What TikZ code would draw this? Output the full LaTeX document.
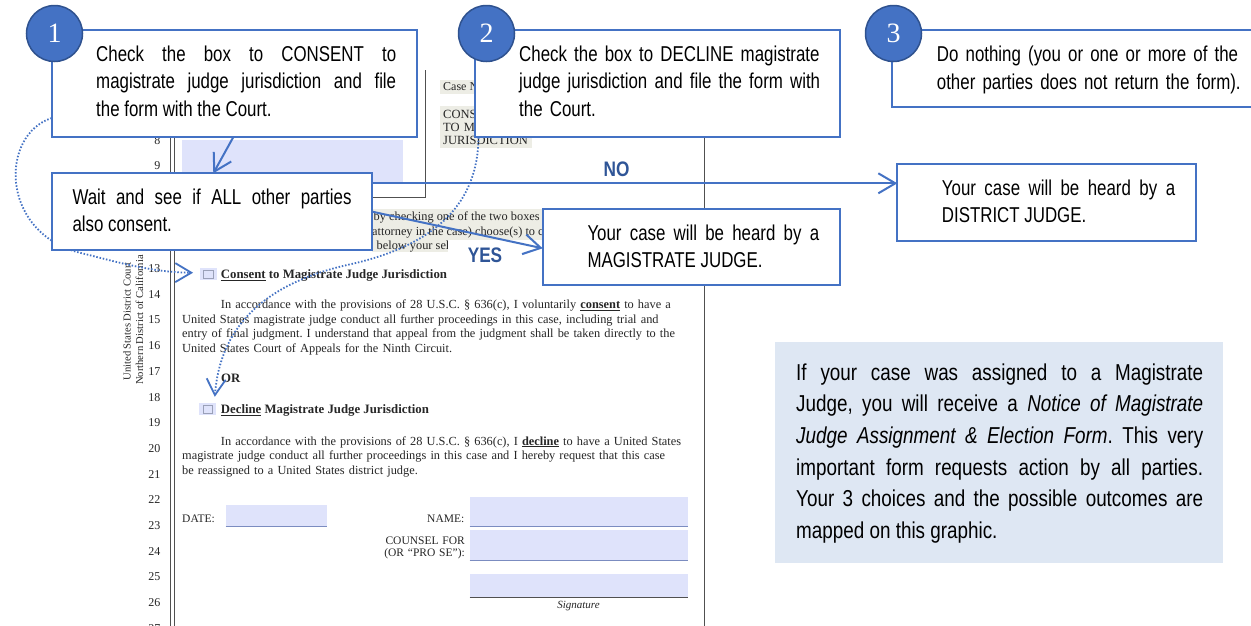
\documentclass[tikz,border=0pt]{standalone}
\usepackage{fontspec}
\setmainfont{Liberation Serif}
\newfontfamily\narrow{Liberation Sans}[FakeStretch=0.82]
\newfontfamily\narrowbox{Liberation Sans}[FakeStretch=0.785]
\usetikzlibrary{arrows.meta,calc}
\frenchspacing
\definecolor{boxblue}{HTML}{4472C4}
\definecolor{circedge}{HTML}{2F528F}
\definecolor{lblblue}{HTML}{2F5597}
\definecolor{infofill}{HTML}{DEE7F3}
\definecolor{fieldfill}{HTML}{DFE3FB}
\definecolor{hilite}{HTML}{EDEDE5}
\definecolor{formtext}{HTML}{262626}
\definecolor{formrule}{HTML}{505050}
\definecolor{chkgray}{HTML}{9AA0B8}
\definecolor{fline}{HTML}{7B8CC0}
\tikzset{
  panel/.style={draw=boxblue, line width=2pt, fill=white, anchor=north west, inner sep=0pt, outer sep=0pt},
  infopanel/.style={fill=infofill, draw=none, anchor=north west, inner sep=0pt, outer sep=0pt},
  btext/.style={font=\narrowbox\fontsize{21.5}{27.8}\selectfont, inner sep=0pt, anchor=base west, text=black},
  badge/.style={circle, fill=boxblue, draw=circedge, line width=1.5pt, minimum size=56pt, inner sep=0pt, text=white, font=\fontsize{28}{28}\selectfont},
  flow/.style={draw=boxblue, line width=2pt, -{Straight Barb[length=17pt,width=20pt]}},
  hint/.style={draw=boxblue, line width=1.8pt, dash pattern=on 1.5pt off 1.8pt, -{Straight Barb[length=16pt,width=19pt]}},
  lbl/.style={font=\narrow\bfseries\fontsize{21}{21}\selectfont, text=lblblue, inner sep=2pt},
  ftext/.style={font=\fontsize{12.35}{14.7}\selectfont, text=formtext, inner sep=0pt, anchor=base west},
  fhead/.style={ftext, font=\bfseries\fontsize{12.8}{14}\selectfont},
  vtext/.style={rotate=90, font=\fontsize{10.6}{11}\selectfont, text=formtext, inner sep=0pt},
  lnum/.style={font=\fontsize{12}{12}\selectfont, text=formtext, inner sep=0pt, anchor=base east},
  rule/.style={draw=formrule, line width=0.9pt},
  chkbox/.style={fill=fieldfill, minimum width=16.7pt, minimum height=12pt, inner sep=0pt},
  chkin/.style={draw=chkgray, line width=0.7pt, minimum width=9.5pt, minimum height=8pt, inner sep=0pt},
  fieldrule/.style={draw=fline, line width=0.8pt},
}
\begin{document}
\begin{tikzpicture}[x=1pt,y=-1pt]
\useasboundingbox (0,0) rectangle (1251,625);
\fill[white] (0,0) rectangle (1251,625);

% ---------------- the form (background) ----------------
\draw[rule] (170.7,137) -- (170.7,630);
\draw[rule] (174,137) -- (174,630);
\draw[rule] (704,30) -- (704,630);
\draw[rule] (425,70) -- (425,197) -- (372,197);

\fill[hilite] (440,80) rectangle (476,94);
\fill[hilite] (440,106) rectangle (532,148);
\fill[hilite] (372,209) rectangle (545,240);
\fill[hilite] (372,240) rectangle (448,252);
\fill[fieldfill] (182,140) rectangle (403,182);

\node[ftext, font=\fontsize{12}{12}\selectfont] (caseno) at (443,90) {Case No.};
\node[ftext, font=\fontsize{12.5}{13}\selectfont, align=left, text width=260pt] (title) at (443,118) {CONSENT OR DECLINATION\\TO MAGISTRATE JUDGE\\JURISDICTION};

\begin{scope}
\clip (372,205) rectangle (545,256);
\node[ftext] (ins1) at (373.5,220.5) {by checking one of the two boxes whether you};
\node[ftext] (ins2) at (372,235.2) {attorney in the case) choose(s) to consent};
\node[ftext] (ins3) at (376.5,249.5) {below your selection.};
\end{scope}

\foreach \n in {8,9} \node[lnum] (ln\n) at (160.5,{268+(\n-13)*25.7+4.5}) {\n};
\foreach \n in {13,...,27} \node[lnum] (ln\n) at (160.5,{268+(\n-13)*25.7+4.5}) {\n};

\node[vtext] (court) at (127,321.5) {United States District Court};
\node[vtext] (distr) at (139.5,320) {Northern District of California};

\node[chkbox] (cb1) at (208.3,274) {};
\node[chkin] at (cb1) {};
\node[fhead] (consent) at (220.7,278.5) {\underline{Consent} to Magistrate Judge Jurisdiction};
\node[ftext, align=left, text width=520pt] (p1) at (182,308.5) {\hspace*{38.7pt}In accordance with the provisions of 28 U.S.C. \S\ 636(c), I voluntarily \textbf{\underline{consent}} to have a\\United States magistrate judge conduct all further proceedings in this case, including trial and\\entry of final judgment. I understand that appeal from the judgment shall be taken directly to the\\United States Court of Appeals for the Ninth Circuit.};
\node[fhead] (or) at (221,382) {OR};
\node[chkbox] (cb2) at (207.8,409) {};
\node[chkin] at (cb2) {};
\node[fhead] (decline) at (220.7,413.5) {\underline{Decline} Magistrate Judge Jurisdiction};
\node[ftext, align=left, text width=520pt] (p2) at (182,445) {\hspace*{38.7pt}In accordance with the provisions of 28 U.S.C. \S\ 636(c), I \textbf{\underline{decline}} to have a United States\\magistrate judge conduct all further proceedings in this case and I hereby request that this case\\be reassigned to a United States district judge.};

\node[ftext, font=\fontsize{11.5}{12}\selectfont] (date) at (182,522) {DATE:};
\fill[fieldfill] (225.7,505) rectangle (327,526);
\draw[fieldrule] (225.7,526) -- (327,526);
\node[ftext, anchor=base east, font=\fontsize{11.5}{12}\selectfont] (name) at (464.5,522) {NAME:};
\fill[fieldfill] (469.6,497) rectangle (687.7,526);
\draw[fieldrule] (469.6,526) -- (687.7,526);
\node[ftext, anchor=base east, align=right, text width=100pt, font=\fontsize{11.5}{12}\selectfont] (counsel) at (465,544) {COUNSEL FOR\\(OR “PRO SE”):};
\fill[fieldfill] (469.6,530) rectangle (687.7,560);
\draw[fieldrule] (469.6,560) -- (687.7,560);
\fill[fieldfill] (469.6,574) rectangle (687.7,597);
\draw[draw=formrule, line width=1pt] (469.6,597) -- (687.7,597);
\node[font=\itshape\fontsize{11}{12}\selectfont, text=formtext, inner sep=0pt] (sig) at (578.5,606.5) {Signature};

% ---------------- dotted hints ----------------
\draw[hint] ($(0,88)+(51.7,30)$) .. controls (0,135) and (0,230) .. (77,252) .. controls (110,260) and (150,272.5) .. ($(cb1.west)+(-6.7,-1.3)$);
\draw[hint] (478.5,137.3) .. controls (478,200) and (440,245) .. (347,265) .. controls (260,285) and (220,330) .. ($(cb2.north)+(7,-6)$);

% ---------------- overlay panels ----------------
\node[panel, minimum width=365pt, minimum height=107.3pt] (b1) at (51.7,30) {};
\node[panel, minimum width=365pt, minimum height=107.3pt] (b2) at (475,30) {};
\node[panel, minimum width=362pt, minimum height=77.3pt] (b3) at (891.7,30) {};
\node[panel, minimum width=320.6pt, minimum height=76.7pt] (wait) at (51.7,173.3) {};
\node[panel, minimum width=297.3pt, minimum height=76pt] (mag) at (542.7,209.3) {};
\node[panel, minimum width=298.7pt, minimum height=76.4pt] (dist) at (897.3,164.3) {};
\node[infopanel, minimum width=447.7pt, minimum height=221pt] (info) at (775,341.7) {};

\node[btext, text width=300pt, align=justify] (t1) at (96,61) {Check the box to CONSENT to\linebreak magistrate judge jurisdiction and file\linebreak the form with the Court.};
\node[btext, text width=360pt, align=left] (t2) at (519,61) {Check the box to DECLINE magistrate\\judge jurisdiction and file the form with\\the Court.};
\node[btext, text width=360pt, align=left] (t3) at (936.7,61.5) {Do nothing (you or one or more of the\\other parties does not return the form).};
\node[btext, text width=279pt, align=justify] (tw) at (72.3,204) {Wait and see if ALL other parties\linebreak also consent.};
\node[btext, text width=231.7pt, align=justify] (tm) at (587.3,240) {Your case will be heard by a\linebreak MAGISTRATE JUDGE.};
\node[btext, text width=233.3pt, align=justify] (td) at (941.7,195) {Your case will be heard by a\linebreak DISTRICT JUDGE.};
\node[btext, font=\narrow\fontsize{23}{31.7}\selectfont, text width=407pt, align=justify] (ti) at (796,380) {If your case was assigned to a Magistrate\linebreak Judge, you will receive a \textit{Notice of Magistrate}\linebreak \textit{Judge Assignment \& Election Form}. This very\linebreak important form requests action by all parties.\linebreak Your 3 choices and the possible outcomes are\linebreak mapped on this graphic.};

\node[badge] (c1) at (54.5,33.5) {1};
\node[badge] (c2) at (486.5,33.5) {2};
\node[badge] (c3) at (893.5,33.5) {3};

% ---------------- labels and flow arrows ----------------
\node[lbl] (no) at (616.5,169) {NO};
\node[lbl, fill=white, minimum width=74pt, minimum height=30pt] (yes) at (485,255) {YES};

\draw[flow] ($(b1.south west)+(181.5,0)$) -- ($(wait.north west)+(161.6,0)$);
\coordinate (noS) at ($(wait.north east)+(0,10)$);
\draw[flow] (noS) -- (noS -| dist.west);
\draw[flow] ($(wait.north east)+(0,38.4)$) -- ($(mag.south west)+(0,-37)$);
\end{tikzpicture}
\end{document}
